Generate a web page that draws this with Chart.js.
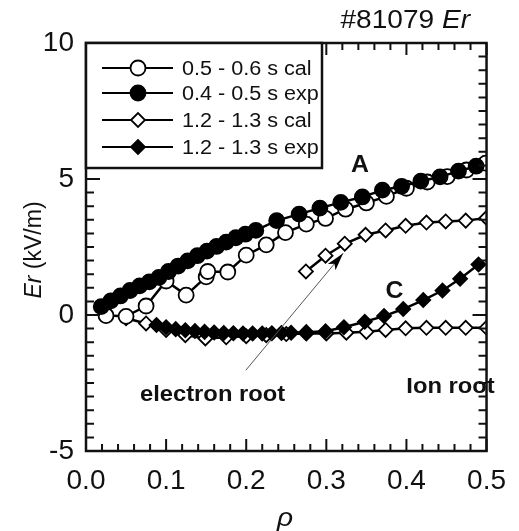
<!DOCTYPE html>
<html>
<head>
<meta charset="utf-8">
<script src="https://cdn.jsdelivr.net/npm/chart.js@4.4.1/dist/chart.umd.min.js"></script>
<style>
  html, body { margin: 0; padding: 0; background: #fff; }
  #c { display: block; }
</style>
</head>
<body>
<canvas id="c" width="519" height="531"></canvas>
<script>
// データ (rho, Er kV/m)
const legendLabels = ["0.5 - 0.6 s cal", "0.4 - 0.5 s exp", "1.2 - 1.3 s cal", "1.2 - 1.3 s exp"];
const xTicks = [0.0, 0.1, 0.2, 0.3, 0.4, 0.5];
const yTicks = [-5, 0, 5, 10];

const rhoCal05 = [0.025, 0.05, 0.075, 0.10, 0.125, 0.150, 0.152, 0.177, 0.200, 0.225, 0.249, 0.275, 0.299, 0.324, 0.350, 0.375, 0.400, 0.426, 0.451, 0.475, 0.499];
const erCal05  = [-0.02, -0.05, 0.33, 1.25, 0.73, 1.40, 1.60, 1.58, 2.20, 2.58, 3.03, 3.34, 3.55, 3.89, 4.12, 4.36, 4.66, 4.89, 5.09, 5.33, 5.58];

const rhoExp04 = [0.019, 0.031, 0.043, 0.055, 0.067, 0.079, 0.091, 0.103, 0.115, 0.127, 0.139, 0.151, 0.163, 0.175, 0.187, 0.199, 0.212, 0.238, 0.266, 0.292, 0.318, 0.345, 0.370, 0.394, 0.418, 0.442, 0.465, 0.487];
const erExp04  = [0.31, 0.52, 0.70, 0.90, 1.07, 1.22, 1.38, 1.60, 1.80, 1.99, 2.18, 2.35, 2.52, 2.68, 2.84, 2.97, 3.11, 3.47, 3.71, 3.93, 4.14, 4.34, 4.59, 4.73, 4.92, 5.08, 5.29, 5.47];

// 1.2-1.3 s cal: ion root branch / electron root branch
const rhoCal12Ion = [0.05, 0.075, 0.10, 0.124, 0.149, 0.175, 0.200, 0.225, 0.250, 0.275, 0.300, 0.325, 0.350, 0.374, 0.399, 0.425, 0.449, 0.474, 0.500];
const erCal12Ion  = [-0.12, -0.31, -0.55, -0.74, -0.86, -0.82, -0.78, -0.74, -0.70, -0.68, -0.68, -0.65, -0.62, -0.55, -0.49, -0.47, -0.47, -0.47, -0.47];
const rhoCal12El  = [0.2745, 0.299, 0.323, 0.349, 0.374, 0.399, 0.425, 0.449, 0.474, 0.500];
const erCal12El   = [1.60, 2.18, 2.62, 2.95, 3.11, 3.28, 3.40, 3.44, 3.47, 3.57];

const rhoExp12 = [0.088, 0.100, 0.112, 0.124, 0.136, 0.148, 0.160, 0.172, 0.184, 0.196, 0.208, 0.220, 0.232, 0.244, 0.256, 0.275, 0.299, 0.322, 0.348, 0.372, 0.396, 0.421, 0.445, 0.467, 0.490];
const erExp12  = [-0.37, -0.45, -0.52, -0.56, -0.59, -0.62, -0.64, -0.66, -0.67, -0.68, -0.68, -0.68, -0.67, -0.66, -0.65, -0.63, -0.60, -0.45, -0.25, -0.04, 0.22, 0.55, 0.90, 1.33, 1.86];

const FONT = "'Liberation Sans', Arial, sans-serif";
const SX = 1.08; // 元図は横に少し伸びている

function pts(xs, ys) {
  return xs.map((x, i) => ({ x: x, y: ys[i] }));
}

const styles = [
  { pointStyle: "circle", pointRadius: 7.5, pointBackgroundColor: "#fff" },
  { pointStyle: "circle", pointRadius: 7.5, pointBackgroundColor: "#000" },
  { pointStyle: "rectRot", pointRadius: 7, pointBackgroundColor: "#fff" },
  { pointStyle: "rectRot", pointRadius: 7, pointBackgroundColor: "#000" }
];

const seriesData = [
  pts(rhoCal05, erCal05),
  pts(rhoExp04, erExp04),
  pts(rhoCal12Ion, erCal12Ion).concat([{ x: 0.5, y: null }], pts(rhoCal12El, erCal12El)),
  pts(rhoExp12, erExp12)
];
const drawOrder = [3, 1, 4, 2]; // 小さいほど上

const datasets = seriesData.map((d, i) => Object.assign({
  label: legendLabels[i],
  data: d,
  borderColor: "#000",
  borderWidth: 2.5,
  pointBorderColor: "#000",
  pointBorderWidth: 1.8,
  spanGaps: false,
  tension: 0,
  order: drawOrder[i]
}, styles[i]));

// 文字描画 (横伸び)
function stretchText(ctx, parts, x, y, align) {
  ctx.save();
  ctx.textBaseline = "alphabetic";
  ctx.textAlign = "left";
  let w = 0;
  parts.forEach(p => { ctx.font = p.font; w += ctx.measureText(p.text).width; });
  let start = align === "right" ? x - w * SX : align === "center" ? x - w * SX / 2 : x;
  ctx.translate(start, y);
  ctx.scale(SX, 1);
  let cx = 0;
  parts.forEach(p => {
    ctx.font = p.font;
    ctx.fillStyle = "#111";
    ctx.fillText(p.text, cx, 0);
    cx += ctx.measureText(p.text).width;
  });
  ctx.restore();
}

const framePlugin = {
  id: "frame",
  afterDatasetsDraw(chart) {
    const ctx = chart.ctx;
    const a = chart.chartArea;
    const xs = chart.scales.x, ys = chart.scales.y;
    ctx.save();
    ctx.strokeStyle = "#111";
    ctx.lineWidth = 2.5;
    ctx.strokeRect(a.left, a.top, a.right - a.left, a.bottom - a.top);

    // 内向き目盛
    ctx.lineWidth = 2;
    ctx.beginPath();
    for (let i = 0; i <= 25; i++) {
      const px = xs.getPixelForValue(i * 0.02);
      const len = i % 5 === 0 ? 12 : 7;
      ctx.moveTo(px, a.bottom); ctx.lineTo(px, a.bottom - len);
      ctx.moveTo(px, a.top); ctx.lineTo(px, a.top + len);
    }
    for (let i = 0; i <= 30; i++) {
      const py = ys.getPixelForValue(-5 + i * 0.5);
      const len = i % 10 === 0 ? 14 : 8;
      ctx.moveTo(a.left, py); ctx.lineTo(a.left + len, py);
      ctx.moveTo(a.right, py); ctx.lineTo(a.right - len, py);
    }
    ctx.stroke();

    // 矢印 (electron root)
    const x0 = xs.getPixelForValue(0.1995), y0 = ys.getPixelForValue(-2.03);
    const x1 = xs.getPixelForValue(0.321), y1 = ys.getPixelForValue(2.27);
    ctx.strokeStyle = "#555";
    ctx.lineWidth = 1;
    ctx.beginPath(); ctx.moveTo(x0, y0); ctx.lineTo(x1, y1); ctx.stroke();
    const ang = Math.atan2(y1 - y0, x1 - x0);
    const hl = 18, hw = 5;
    ctx.fillStyle = "#000";
    ctx.beginPath();
    ctx.moveTo(x1, y1);
    ctx.lineTo(x1 - hl * Math.cos(ang) + hw * Math.sin(ang), y1 - hl * Math.sin(ang) - hw * Math.cos(ang));
    ctx.lineTo(x1 - hl * 0.75 * Math.cos(ang), y1 - hl * 0.75 * Math.sin(ang));
    ctx.lineTo(x1 - hl * Math.cos(ang) - hw * Math.sin(ang), y1 - hl * Math.sin(ang) + hw * Math.cos(ang));
    ctx.closePath(); ctx.fill();

    // 注記
    const bold = "bold 22px " + FONT;
    stretchText(ctx, [{ text: "A", font: "bold 23px " + FONT }], xs.getPixelForValue(0.342), ys.getPixelForValue(5.54) + 8, "center");
    stretchText(ctx, [{ text: "C", font: "bold 23px " + FONT }], xs.getPixelForValue(0.385), ys.getPixelForValue(0.91) + 8, "center");
    stretchText(ctx, [{ text: "Ion root", font: bold }], xs.getPixelForValue(0.455), ys.getPixelForValue(-2.58) + 8, "center");
    stretchText(ctx, [{ text: "electron root", font: bold }], xs.getPixelForValue(0.158), ys.getPixelForValue(-2.85) + 8, "center");

    // 凡例
    const lx = a.left, ly = a.top, lw = 236, lh = 125;
    ctx.fillStyle = "#fff";
    ctx.fillRect(lx, ly, lw, lh);
    ctx.strokeStyle = "#111";
    ctx.lineWidth = 2.5;
    ctx.strokeRect(lx, ly, lw, lh);
    const rows = [25, 50, 77, 104];
    chart.data.datasets.forEach((ds, i) => {
      const ry = ly + rows[i];
      ctx.strokeStyle = "#000";
      ctx.lineWidth = 2;
      ctx.beginPath(); ctx.moveTo(lx + 16, ry); ctx.lineTo(lx + 87, ry); ctx.stroke();
      ctx.fillStyle = ds.pointBackgroundColor;
      ctx.lineWidth = 1.8;
      Chart.helpers.drawPoint(ctx, { pointStyle: ds.pointStyle, rotation: 0, radius: ds.pointRadius, borderWidth: 1.8 }, lx + 52, ry);
      stretchText(ctx, [{ text: ds.label, font: "20px " + FONT }], lx + 96, ry + 7, "left");
    });

    // タイトル・軸名
    stretchText(ctx, [{ text: "#81079 ", font: "26px " + FONT }, { text: "Er", font: "italic 26px " + FONT }], 470, 28, "right");
    stretchText(ctx, [{ text: "\u03c1", font: "italic 26px " + FONT }], 285, 526, "center");

    ctx.save();
    ctx.translate(41, 250);
    ctx.rotate(-Math.PI / 2);
    ctx.fillStyle = "#111";
    ctx.textBaseline = "alphabetic";
    ctx.font = "italic 23px " + FONT;
    const w1 = ctx.measureText("Er").width;
    ctx.font = "23px " + FONT;
    const w2 = ctx.measureText(" (kV/m)").width;
    let sx = -(w1 + w2) / 2;
    ctx.font = "italic 23px " + FONT;
    ctx.fillText("Er", sx, 0);
    ctx.font = "23px " + FONT;
    ctx.fillText(" (kV/m)", sx + w1, 0);
    ctx.restore();

    ctx.restore();
  }
};

const chart = new Chart(document.getElementById("c"), {
  type: "line",
  data: { datasets: datasets },
  options: {
    responsive: false,
    animation: false,
    layout: { padding: { top: 43, right: 22, left: 0, bottom: 0 } },
    plugins: { legend: { display: false }, tooltip: { enabled: false } },
    scales: {
      x: {
        type: "linear",
        min: 0, max: 0.5,
        afterBuildTicks: s => { s.ticks = xTicks.map(v => ({ value: v })); },
        afterFit: s => { s.height = 80; },
        ticks: {
          callback: v => Number(v).toFixed(1),
          font: { family: FONT, size: 28 },
          color: "#111",
          padding: 13,
          maxRotation: 0,
          autoSkip: false
        },
        grid: { display: false, drawTicks: false, tickLength: 0 },
        border: { display: false }
      },
      y: {
        min: -5, max: 10,
        afterBuildTicks: s => { s.ticks = yTicks.map(v => ({ value: v })); },
        afterFit: s => { s.width = 86; },
        ticks: {
          font: { family: FONT, size: 28 },
          color: "#111",
          padding: 12
        },
        grid: { display: false, drawTicks: false, tickLength: 0 },
        border: { display: false }
      }
    }
  },
  plugins: [framePlugin]
});
</script>
</body>
</html>
